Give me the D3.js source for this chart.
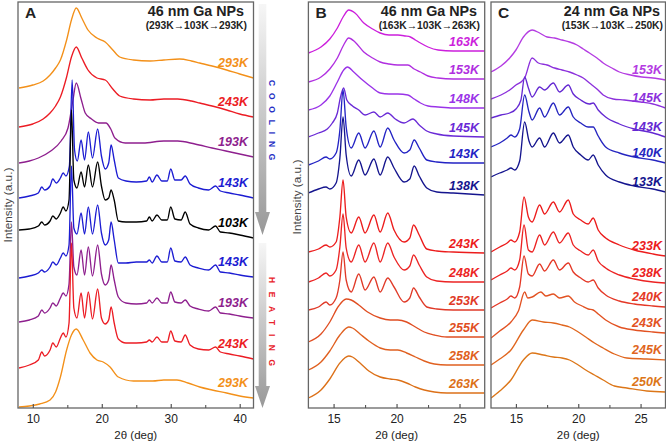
<!DOCTYPE html>
<html><head><meta charset="utf-8">
<script src="https://cdn.jsdelivr.net/npm/d3@7"></script>
<style>body{margin:0;background:#fff} svg{display:block} text{font-family:"Liberation Sans",Arial,Helvetica,sans-serif}</style>
</head><body><svg id="c" width="666" height="441"></svg>
<script>
// ---------------- DATA (2θ in deg, intensity in a.u. above each trace's own baseline) ----------------
const ticksA = [10, 20, 30, 40];
const minorTicksA = [15, 25, 35];
const ticksBC = [15, 20, 25];
const minorTicksBC = [17.5, 22.5];

// Panel A : 46 nm Ga NPs (293K->103K->293K), top to bottom
const labelsA = ["293K", "243K", "193K", "143K", "103K", "143K", "193K", "243K", "293K"];
const offsetsA = [320, 281, 245, 210, 178, 130, 86, 40, 1];
const A_293K_cool = [[8,0],[10,3],[11.5,7],[12.5,13],[13.3,20],[14,28],[14.9,48],[15.6,68],[16.3,80],[17.1,70],[18,58],[19.3,50],[20.5,46],[21.6,38],[22.6,31],[24.6,28],[27,27],[29,28],[31.3,29],[33,27],[34.2,25],[36,22],[38.1,18],[40,14],[42,10]];
const A_243K_cool = [[8,0],[10,3],[11.5,8],[12.5,14],[13.3,21],[14,30],[14.9,50],[15.6,70],[16.3,80],[17.1,69],[18,57],[19.3,49],[20.5,47],[21.6,38],[22.6,31],[24.6,28],[27,27],[29,28],[31,28],[33,26],[34.2,24],[36,21],[38.1,17],[40,13],[42,10]];
const A_193K_cool = [[8,0],[9.5,2],[10.8,5],[12.6,12],[14.1,22],[15.1,35],[15.8,62],[16.3,80],[17,64],[17.6,50],[18.5,44],[19.5,40],[20.6,40],[21.3,34],[21.9,25],[23.4,20],[26,20],[29,22],[31,22],[33.5,19],[36,15],[38,12],[40,9],[42,6]];
const A_143K_cool = [[8,0],[9.5,2],[10.8,5],[11.3,11],[11.7,8],[12.5,12],[12.9,19],[13.4,15],[14.0,20],[14.4,25],[14.8,22],[15.3,32],[15.7,118],[16.05,48],[16.45,37],[17.0,58],[17.5,38],[18.05,66],[18.65,40],[19.4,69],[19.95,42],[20.5,29],[21.0,35],[21.35,53],[21.8,38],[22.4,20],[23.5,17],[25,16],[26.5,17],[26.9,21],[27.3,16],[28.0,23],[28.7,17],[29.5,17],[30.0,29],[30.6,18],[31.5,18],[32.1,22],[32.8,14],[34,10],[35.5,8],[36.5,12],[37.2,7],[38.5,5],[40,3],[42,0]];
const A_103K = [[8,0],[9.5,1],[10.8,4],[11.3,8],[11.7,5],[12.5,9],[12.9,14],[13.4,11],[14.0,17],[14.4,23],[14.8,19],[15.25,30],[15.6,120],[15.95,50],[16.4,42],[17.0,58],[17.5,43],[18.05,65],[18.65,43],[19.4,68],[19.95,44],[20.5,30],[21.0,32],[21.35,40],[21.8,30],[22.4,9],[23.5,8],[25,8],[26.5,9],[26.9,13],[27.3,9],[28.0,15],[28.7,10],[29.5,10],[30.0,23],[30.6,11],[31.5,10],[32.1,18],[32.8,6],[34,2],[35.5,0],[36.5,4],[37.2,-2],[38.5,-3],[40,-5],[42,-8]];
const A_143K_heat = [[8,0],[9.5,2],[10.8,5],[11.3,8],[11.7,6],[12.5,11],[12.9,16],[13.4,13],[14.0,20],[14.4,25],[14.8,22],[15.25,33],[15.6,112],[15.95,50],[16.4,44],[17.0,65],[17.5,44],[18.05,71],[18.65,44],[19.4,73],[19.95,45],[20.5,33],[21.0,38],[21.35,56],[21.8,38],[22.4,15],[23.5,15],[25,16],[26.5,16],[26.9,18],[27.3,15],[28.0,22],[28.7,16],[29.5,16],[30.0,30],[30.6,17],[31.5,16],[32.1,21],[32.8,13],[34,10],[35.5,8],[36.5,13],[37.2,6],[38.5,5],[40,3],[42,1]];
const A_193K_heat = [[8,0],[9.5,2],[10.8,6],[11.3,12],[11.7,9],[12.5,14],[12.9,19],[13.4,16],[14.0,24],[14.4,29],[14.8,26],[15.25,38],[15.6,100],[15.95,55],[16.4,47],[17.0,72],[17.5,47],[18.05,75],[18.65,46],[19.4,77],[19.95,48],[20.5,37],[21.0,42],[21.35,57],[21.8,42],[22.4,25],[23.5,19],[25,18],[26.5,19],[26.9,22],[27.3,19],[28.0,24],[28.7,19],[29.5,19],[30.0,30],[30.6,20],[31.5,19],[32.1,22],[32.8,16],[34,13],[35.5,11],[36.5,15],[37.2,9],[38.5,8],[40,6],[42,4]];
const A_243K_heat = [[8,0],[9.5,3],[10.8,8],[11.3,16],[11.7,12],[12.5,18],[12.9,25],[13.4,21],[14.0,30],[14.4,35],[14.8,31],[15.25,45],[15.6,125],[15.95,60],[16.4,50],[17.0,75],[17.5,50],[18.05,76],[18.65,49],[19.4,79],[19.95,50],[20.5,44],[21.0,48],[21.35,61],[21.8,45],[22.4,29],[23.5,25],[25,25],[26.5,26],[26.9,28],[27.3,26],[28.0,31],[28.7,26],[29.5,26],[30.0,37],[30.6,27],[31.5,26],[32.1,33],[32.8,23],[34,19],[35.5,18],[36.5,21],[37.2,16],[38.5,14],[40,12],[42,9]];
const A_293K_heat = [[8,0],[9.5,1],[11,3],[12.5,7],[13.3,15],[14,30],[14.9,57],[15.6,72],[16.3,78],[17.3,67],[18.3,54],[19.3,47],[20.2,45],[21.2,40],[22.4,30],[24.6,26],[27.4,26],[29,27],[30.9,27],[32.5,24],[34.2,20],[36,17],[38.1,14],[40,11],[42,9]];

// Panel B : 46 nm Ga NPs (163K->103K->263K)
const labelsB = ["163K", "153K", "148K", "145K", "143K", "138K", "243K", "248K", "253K", "255K", "258K", "263K"];
const offsetsB = [355, 326, 298, 271, 243, 215, 156, 126, 98, 66, 38, 10];
const B_163K = [[13,0],[14,6],[14.7,14],[15.3,25],[15.8,37],[16.2,43],[16.7,40],[17.4,30],[18.1,24],[18.7,20],[19.4,18],[20.1,18],[20.7,17],[21.1,16],[21.5,13],[21.9,10],[22.5,6],[23.3,3],[24.5,2],[26,2],[27,2]];
const B_153K = [[13,0],[14,5],[14.7,13],[15.3,24],[15.8,37],[16.2,44],[16.7,40],[17.4,30],[18.1,24],[18.7,20],[19.4,18],[20.1,17],[20.9,17],[21.4,13],[21.9,10],[22.5,6],[23.3,4],[24.5,3],[27,3]];
const B_148K = [[13,0],[14,5],[14.7,14],[15.3,28],[15.8,40],[16.1,43],[16.6,38],[17.3,30],[18.1,22],[18.7,17],[19.4,16],[20.1,16],[20.9,15],[21.4,11],[21.9,7],[22.5,4],[23.3,3],[24.5,2],[27,2]];
const B_145K = [[13,0],[13.8,4],[14.5,8],[14.9,14],[15.3,24],[15.55,40],[15.8,49],[16.05,37],[16.5,31],[17.0,27],[17.5,22],[18.2,25],[18.7,20],[19.3,24],[19.9,18],[20.6,14],[21.3,18],[21.8,12],[22.4,6],[23.2,3],[24.5,1],[27,0]];
const B_143K = [[13,0],[13.8,4],[14.4,8],[14.7,6],[15.2,12],[15.5,35],[15.75,75],[16.0,38],[16.4,17],[17.0,32],[17.5,17],[18.2,34],[18.7,18],[19.3,37],[19.8,25],[20.6,12],[21.05,15],[21.4,25],[21.8,17],[22.4,5],[23.2,3],[24.5,2],[27,2]];
const B_138K = [[13,0],[13.8,4],[14.4,6],[14.7,4],[15.2,10],[15.5,35],[15.75,76],[16.0,38],[16.4,17],[17.0,33],[17.5,18],[18.2,34],[18.7,18],[19.3,36],[19.8,25],[20.6,11],[21.05,14],[21.4,27],[21.8,17],[22.4,5],[23.2,1],[24.5,0],[27,-2]];
const B_243K = [[13,0],[13.8,3],[14.4,7],[14.7,5],[15.2,10],[15.5,35],[15.75,72],[16.0,35],[16.4,19],[17.0,35],[17.5,19],[18.2,37],[18.7,20],[19.3,39],[19.8,22],[20.6,10],[21.05,14],[21.35,27],[21.8,17],[22.4,3],[23.2,1],[24.5,0],[27,-1]];
const B_248K = [[13,0],[13.8,4],[14.4,9],[14.7,6],[15.2,12],[15.5,35],[15.75,68],[16.0,34],[16.4,20],[17.0,37],[17.5,20],[18.2,39],[18.7,20],[19.3,39],[19.8,25],[20.6,12],[21.05,16],[21.35,27],[21.8,17],[22.4,5],[23.2,1],[24.5,0],[27,0]];
const B_253K = [[13,0],[13.8,3],[14.4,8],[14.7,5],[15.2,12],[15.5,30],[15.75,58],[16.0,30],[16.4,18],[17.0,36],[17.5,20],[18.2,33],[18.7,18],[19.3,32],[19.8,23],[20.6,8],[21.05,12],[21.35,22],[21.8,13],[22.4,3],[23.2,1],[24.5,0],[27,0]];
const B_255K = [[13,0],[14,8],[14.7,20],[15.4,36],[16.0,43],[16.4,42],[17.0,37],[17.7,30],[18.7,24],[19.5,22],[20.1,22],[20.8,20],[21.5,15],[22.2,10],[23,7],[24,5],[25.5,5],[27,5]];
const B_258K = [[13,0],[14,8],[14.7,19],[15.5,35],[16.2,43],[16.5,42],[17.1,36],[17.8,29],[18.7,22],[19.5,20],[20.1,20],[20.8,17],[21.5,13],[22.2,9],[23,6],[24,5],[25.5,5],[27,5]];
const B_263K = [[13,0],[14,8],[14.7,19],[15.5,35],[16.2,42],[16.5,41],[17.1,35],[17.8,27],[18.7,21],[19.5,19],[20.1,18],[20.8,15],[21.5,11],[22.2,8],[23,6],[24,5],[25.5,5],[27,5]];

// Panel C : 24 nm Ga NPs (153K->103K->250K)
const labelsC = ["153K", "145K", "143K", "140K", "133K", "233K", "238K", "240K", "243K", "245K", "250K"];
const offsetsC = [336, 309, 290, 261, 231, 156, 128, 100, 70, 43, 10];
const C_153K = [[13,0],[13.8,6],[14.5,14],[15.0,22],[15.6,35],[16.3,42],[16.9,39],[17.5,35],[18.1,34],[18.7,32],[19.3,30],[19.9,27],[20.4,23],[20.9,19],[21.5,14],[22,9],[22.7,4],[23.3,0],[24.2,-3],[25.1,-5],[26,-6],[27,-8]];
const C_145K = [[13,0],[13.8,4],[14.5,9],[15.0,14],[15.5,18],[15.7,21],[16.3,41],[16.8,36],[17.5,34],[18.1,31],[18.7,29],[19.3,27],[19.9,24],[20.4,21],[20.9,16],[21.5,10],[22,4],[22.8,0],[23.7,-1],[25,-3],[26,-5],[27,-9]];
const C_143K = [[13,0],[13.8,3],[14.5,5],[15.0,9],[15.4,18],[15.7,41],[16.0,30],[16.3,21],[16.9,31],[17.3,28],[18.0,35],[18.5,26],[19.2,33],[19.6,24],[20.2,18],[20.9,14],[21.2,15],[21.6,8],[22.2,1],[23.3,-6],[24.5,-11],[26,-15],[27,-19]];
const C_140K = [[13,0],[13.7,4],[14.3,9],[14.6,12],[14.9,10],[15.3,18],[15.7,52],[16.05,35],[16.3,27],[16.9,39],[17.3,30],[18.0,44],[18.5,32],[19.2,40],[19.6,30],[20.2,24],[20.8,20],[21.2,20],[21.6,11],[22.2,0],[23.3,-6],[24.5,-10],[26,-13],[27,-16]];
const C_133K = [[13,0],[13.7,4],[14.3,7],[14.6,9],[14.9,7],[15.3,16],[15.7,55],[16.05,36],[16.3,30],[16.9,39],[17.3,30],[18.0,44],[18.5,34],[19.2,42],[19.6,30],[20.2,22],[20.8,17],[21.2,22],[21.6,12],[22.2,2],[23.3,-5],[24.5,-9],[26,-12],[27,-15]];
const C_233K = [[13,0],[13.7,5],[14.3,9],[14.6,12],[14.9,10],[15.3,20],[15.65,55],[16.0,35],[16.3,30],[16.9,47],[17.3,38],[18.0,50],[18.5,40],[19.2,52],[19.6,38],[20.2,32],[20.8,28],[21.2,34],[21.6,22],[22.2,14],[23.3,7],[24.5,2],[26,-2],[27,-4]];
const C_238K = [[13,0],[13.7,5],[14.3,9],[14.6,12],[14.9,10],[15.3,20],[15.65,55],[16.0,30],[16.3,28],[16.9,45],[17.3,35],[18.0,48],[18.5,37],[19.2,47],[19.6,35],[20.2,29],[20.8,25],[21.2,30],[21.6,19],[22.2,12],[23.3,5],[24.5,1],[26,-2],[27,-3]];
const C_240K = [[13,0],[13.7,5],[14.3,9],[14.6,12],[14.9,10],[15.3,21],[15.65,52],[16.0,34],[16.3,32],[16.9,44],[17.3,37],[18.0,48],[18.5,38],[19.2,45],[19.6,36],[20.2,30],[20.8,26],[21.2,28],[21.6,20],[22.2,13],[23.3,7],[24.5,4],[26,2],[27,1]];
const C_243K = [[13,0],[13.7,7],[14.6,16],[15.2,27],[15.7,46],[15.95,40],[16.3,41],[17.0,46],[17.4,42],[18.0,44],[18.5,40],[19.2,42],[19.7,36],[20.3,32],[20.8,29],[21.2,28],[21.6,24],[22.2,18],[23.3,11],[24.5,8],[26,6],[27,5]];
const C_245K = [[13,0],[13.7,6],[14.6,15],[15.6,35],[16.3,45],[17.2,43],[18.0,42],[18.7,40],[19.3,38],[20.0,33],[20.6,28],[21.3,22],[22.0,17],[22.9,11],[23.9,7],[25.5,6],[27,5]];
const C_250K = [[13,0],[13.7,7],[14.6,18],[15.6,38],[16.3,45],[17.2,43],[18.0,41],[18.7,40],[19.3,38],[20.0,33],[20.6,28],[21.3,23],[22.0,18],[22.9,12],[23.9,10],[25.5,7],[27,6]];

// ---------------- STYLE ----------------
const colorsA = ["#f39019", "#ec1c24", "#8e1f8e", "#1c1cd2", "#000000", "#1c1cd2", "#8e1f8e", "#ec1c24", "#f39019"];
const colorsB = ["#cc1fdc", "#b02fe0", "#9a33e8", "#6a2ad6", "#2323c4", "#15158e", "#ec1c1c", "#ec2424", "#e03a28", "#e04e22", "#e06020", "#dc7018"];
const colorsC = ["#b43ce2", "#8c30dc", "#6428d2", "#2525c0", "#14148e", "#ec1c1c", "#ec2222", "#e43826", "#e25222", "#e0661e", "#dc7618"];

const panels = [
  {letter:"A", title:"46 nm Ga NPs", sub:"(293K\u2192103K\u2192293K)", domain:[7.85,42], range:[18,253.5],
   series:[A_293K_cool,A_243K_cool,A_193K_cool,A_143K_cool,A_103K,A_143K_heat,A_193K_heat,A_243K_heat,A_293K_heat],
   offsets:offsetsA, labels:labelsA, colors:colorsA, ticks:ticksA, minor:minorTicksA, labelGap:11, titleRight:246, ylab:8},
  {letter:"B", title:"46 nm Ga NPs", sub:"(163K\u2192103K\u2192263K)", domain:[13,27], range:[308.4,484.7],
   series:[B_163K,B_153K,B_148K,B_145K,B_143K,B_138K,B_243K,B_248K,B_253K,B_255K,B_258K,B_263K],
   offsets:offsetsB, labels:labelsB, colors:colorsB, ticks:ticksBC, minor:minorTicksBC, labelGap:5, titleRight:479, ylab:297},
  {letter:"C", title:"24 nm Ga NPs", sub:"(153K\u2192103K\u2192250K)", domain:[13,27], range:[491,665.5],
   series:[C_153K,C_145K,C_143K,C_140K,C_133K,C_233K,C_238K,C_240K,C_243K,C_245K,C_250K],
   offsets:offsetsC, labels:labelsC, colors:colorsC, ticks:ticksBC, minor:minorTicksBC, labelGap:6.5, titleRight:662, ylab:null}
];

const svg = d3.select("#c");
const yTop = 2, yBottom = 408;
const y = d3.scaleLinear().domain([0, 406]).range([yBottom, yTop]);
const defs = svg.append("defs");

const grad = defs.append("linearGradient").attr("id","ag").attr("x1",0).attr("y1",0).attr("x2",0).attr("y2",1);
grad.append("stop").attr("offset","0%").attr("stop-color","#f6f6f6");
grad.append("stop").attr("offset","100%").attr("stop-color","#989898");

panels.forEach((p, pi) => {
  const x = d3.scaleLinear().domain(p.domain).range(p.range);
  const g = svg.append("g");
  const cid = "clip" + pi;
  defs.append("clipPath").attr("id", cid).append("rect")
    .attr("x", p.range[0]).attr("y", yTop).attr("width", p.range[1]-p.range[0]).attr("height", yBottom-yTop);

  const curves = g.append("g").attr("clip-path", `url(#${cid})`);
  p.series.forEach((s, i) => {
    const off = p.offsets[i];
    const line = d3.line().x(d => x(d[0])).y(d => y(d[1] + off)).curve(d3.curveMonotoneX);
    curves.append("path").datum(s).attr("d", line).attr("fill","none")
      .attr("stroke", p.colors[i]).attr("stroke-width", 1.35).attr("stroke-linejoin","round");
    const last = s[s.length-1];
    g.append("text").attr("x", p.titleRight + (pi===0?2:0)).attr("y", y(last[1]+off) - p.labelGap)
      .attr("text-anchor","end").attr("font-size", 12.5).attr("font-weight","bold").attr("font-style","italic")
      .attr("fill", p.colors[i]).text(p.labels[i]);
  });

  g.append("rect").attr("x", p.range[0]).attr("y", yTop).attr("width", p.range[1]-p.range[0]).attr("height", yBottom-yTop)
    .attr("fill","none").attr("stroke","#666").attr("stroke-width",1.3);

  const ax = g.append("g").attr("transform", `translate(0,${yBottom})`)
    .call(d3.axisBottom(x).tickValues(p.ticks).tickSizeInner(-4).tickSizeOuter(0).tickPadding(6).tickFormat(d3.format("d")));
  ax.select(".domain").remove();
  ax.selectAll("line").attr("stroke","#555").attr("stroke-width",1.2);
  ax.selectAll("text").attr("font-size",12).attr("fill","#222").attr("font-family",'"Liberation Sans",Arial,sans-serif');
  const mx = g.append("g").attr("transform", `translate(0,${yBottom})`)
    .call(d3.axisBottom(x).tickValues(p.minor).tickSizeInner(-3).tickSizeOuter(0).tickFormat(""));
  mx.select(".domain").remove();
  mx.selectAll("line").attr("stroke","#555").attr("stroke-width",1.1);

  g.append("text").attr("x", (p.range[0]+p.range[1])/2).attr("y", 439).attr("text-anchor","middle")
    .attr("font-size",11.5).attr("fill","#222").text("2\u03B8 (deg)");

  g.append("text").attr("x", p.range[0]+7).attr("y", 18).attr("font-size",15.5).attr("font-weight","bold").attr("fill","#222").text(p.letter);
  g.append("text").attr("x", p.titleRight-2).attr("y", 15.5).attr("text-anchor","end").attr("font-size",14.3).attr("font-weight","bold").attr("fill","#222").text(p.title);
  g.append("text").attr("x", p.titleRight+1).attr("y", 29).attr("text-anchor","end").attr("font-size",10.3).attr("font-weight","bold").attr("fill","#222").text(p.sub);

  if (p.ylab !== null) {
    g.append("text").attr("transform", `translate(${p.ylab},${pi===0?205:197}) rotate(-90)`)
      .attr("text-anchor","middle").attr("dominant-baseline","central").attr("font-size",11.8).attr("fill","#444").text("Intensity (a.u.)");
  }
});

function arrow(y0, yh, yt) {
  const cx = 262.5, sw = 3.8, hw = 7.5;
  return `M${cx-sw},${y0}L${cx+sw},${y0}L${cx+sw},${yh}L${cx+hw},${yh}L${cx},${yt}L${cx-hw},${yh}L${cx-sw},${yh}Z`;
}
svg.append("path").attr("d", arrow(4, 212, 235)).attr("fill","url(#ag)");
svg.append("path").attr("d", arrow(243, 386, 408)).attr("fill","url(#ag)");
svg.append("text").attr("transform","translate(272,80) rotate(90)").attr("dominant-baseline","central")
  .attr("font-size",8.5).attr("font-weight","bold").attr("letter-spacing",6.8).attr("fill","#1f2fc4").text("COOLING");
svg.append("text").attr("transform","translate(272,277) rotate(90)").attr("dominant-baseline","central")
  .attr("font-size",8.5).attr("font-weight","bold").attr("letter-spacing",8.6).attr("fill","#e8232a").text("HEATING");
</script></body></html>
